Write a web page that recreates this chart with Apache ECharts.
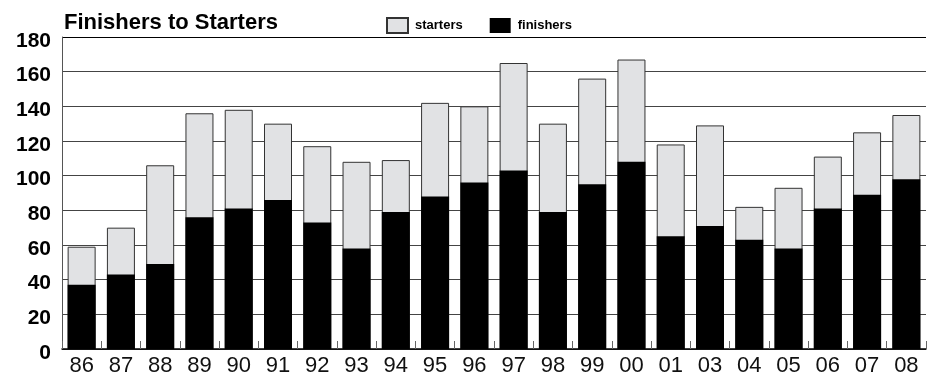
<!DOCTYPE html>
<html>
<head>
<meta charset="utf-8">
<style>
  html, body { margin: 0; padding: 0; background: #fff; }
  #chart { width: 930px; height: 377px; }
</style>
<script src="https://cdn.jsdelivr.net/npm/echarts@6/dist/echarts.min.js"></script>
</head>
<body>
<div id="chart"></div>
<script>
// Race seasons (two-digit years; no 2002 race)
const years = ['86','87','88','89','90','91','92','93','94','95','96','97','98','99','00','01','03','04','05','06','07','08'];
// Number of starters each year
const starters = [59, 70, 106, 136, 138, 130, 117, 108, 109, 142, 140, 165, 130, 156, 167, 118, 129, 82, 93, 111, 125, 135];
// Number of finishers each year
const finishers = [37, 43, 49, 76, 81, 86, 73, 58, 79, 88, 96, 103, 79, 95, 108, 65, 71, 63, 58, 81, 89, 98];
// Value axis ticks
const yTicks = [0, 20, 40, 60, 80, 100, 120, 140, 160, 180];

const FONT = "'Liberation Sans', Arial, Helvetica, sans-serif";

const chart = echarts.init(document.getElementById('chart'), null, { renderer: 'canvas' });

chart.setOption({
  animation: false,
  backgroundColor: '#ffffff',
  title: {
    text: 'Finishers to Starters',
    left: 59,
    top: 7,
    textStyle: { fontFamily: FONT, fontWeight: 'bold', fontSize: 22, color: '#000' }
  },
  legend: {
    left: 381,
    top: 12,
    itemWidth: 21,
    itemHeight: 15,
    itemGap: 27,
    icon: 'rect',
    textStyle: { fontFamily: FONT, fontWeight: 'bold', fontSize: 13, color: '#000', padding: [4, 0, 0, 2] },
    data: ['starters', 'finishers']
  },
  grid: { left: 62, right: 4, top: 37, bottom: 26, containLabel: false },
  xAxis: {
    type: 'category',
    data: years,
    axisLine: { show: true, lineStyle: { color: '#000', width: 1.5 } },
    axisTick: { show: true, inside: true, length: 8, lineStyle: { color: '#666', width: 1 } },
    axisLabel: { fontFamily: FONT, fontSize: 22, color: '#111', margin: 6 },
    z: 3
  },
  yAxis: {
    type: 'value',
    min: yTicks[0],
    max: yTicks[yTicks.length - 1],
    interval: 20,
    axisLine: { show: true, lineStyle: { color: '#555', width: 1 } },
    axisTick: { show: false },
    axisLabel: {
      fontFamily: FONT, fontWeight: 'bold', fontSize: 21, color: '#000', margin: 11,
      verticalAlign: 'top', lineHeight: 8
    },
    splitLine: {
      show: true,
      lineStyle: {
        width: 1.2,
        color: yTicks.map(function (t) { return t === 180 ? '#000' : '#444'; })
      }
    }
  },
  series: [
    {
      name: 'starters',
      type: 'bar',
      data: starters,
      barWidth: 28,
      barGap: '-100%',
      itemStyle: { color: '#e1e2e4', borderColor: '#333', borderWidth: 1 },
      z: 2
    },
    {
      name: 'finishers',
      type: 'bar',
      data: finishers,
      barWidth: 28,
      barGap: '-100%',
      itemStyle: { color: '#000' },
      z: 2
    }
  ]
});
</script>
</body>
</html>
